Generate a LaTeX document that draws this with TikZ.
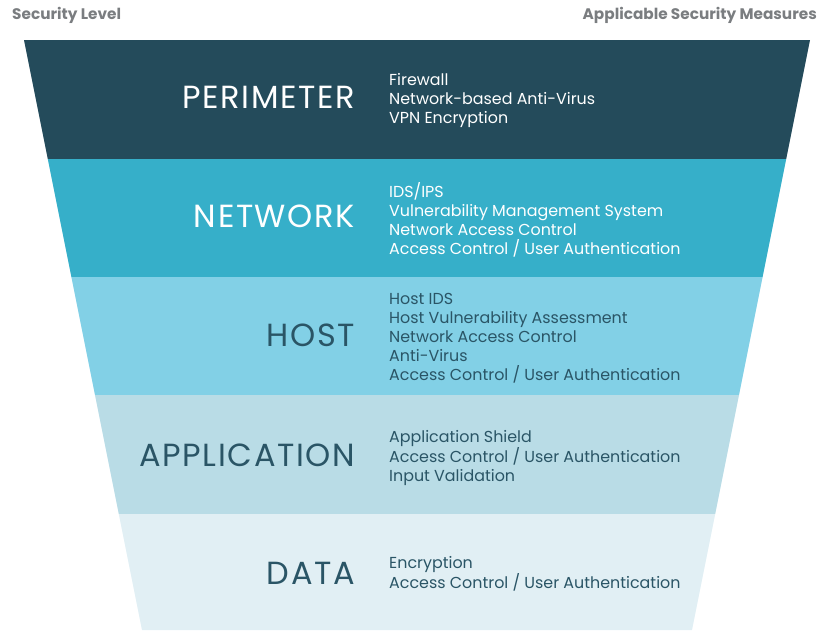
\documentclass[tikz,border=0pt]{standalone}
\usepackage{fontspec}
\setmainfont{Poppins}
\newfontfamily\levelfont[LetterSpace=5]{Poppins}
\definecolor{cPer}{HTML}{244B5B}
\definecolor{cNet}{HTML}{36AFC9}
\definecolor{cHost}{HTML}{82D0E6}
\definecolor{cApp}{HTML}{B9DCE6}
\definecolor{cData}{HTML}{E1EFF4}
\definecolor{cDark}{HTML}{2A5566}
\definecolor{cHead}{HTML}{7A7D80}
\begin{document}
\begin{tikzpicture}[x=1pt,y=-1pt,
  level/.style={anchor=east,inner sep=0pt,font=\levelfont\fontsize{32}{32}\selectfont},
  measures/.style={anchor=west,inner sep=0pt,align=left,font=\fontsize{15.9}{19}\selectfont},
  head/.style={inner sep=0pt,text=cHead,font=\fontsize{15.3}{15}\selectfont\bfseries}]
\useasboundingbox (0,0) rectangle (820,630);
\fill[cPer]  (24,40) -- (810,40) -- (786.2,159) -- (47.8,159) -- cycle;
\fill[cNet]  (47.8,159) -- (786.2,159) -- (762.6,277) -- (71.4,277) -- cycle;
\fill[cHost] (71.4,277) -- (762.6,277) -- (739,395) -- (95,395) -- cycle;
\fill[cApp]  (95,395) -- (739,395) -- (715.2,514) -- (118.8,514) -- cycle;
\fill[cData] (118.8,514) -- (715.2,514) -- (692,630) -- (142,630) -- cycle;

\node[head,anchor=west] (hl) at (12,15) {Security Level};
\node[head,anchor=east] (hr) at (817,15) {Applicable Security Measures};

\node[level,text=white] (per) at (355,97.5) {PERIMETER};
\node[level,text=white] (net) at (355,216.5) {NETWORK};
\node[level,text=cDark] (host) at (355,335.5) {HOST};
\node[level,text=cDark] (app) at (355,455) {APPLICATION};
\node[level,text=cDark] (data) at (355,573) {DATA};

\node[measures,text=white] (mper) at (389,101) {Firewall\\Network-based Anti-Virus\\VPN Encryption};
\node[measures,text=white] (mnet) at (389,219.5) {IDS/IPS\\Vulnerability Management System\\Network Access Control\\Access Control / User Authentication};
\node[measures,text=cDark] (mhost) at (389,338) {Host IDS\\Host Vulnerability Assessment\\Network Access Control\\Anti-Virus\\Access Control / User Authentication};
\node[measures,text=cDark] (mapp) at (389,458) {Application Shield\\Access Control / User Authentication\\Input Validation};
\node[measures,text=cDark] (mdata) at (389,574) {Encryption\\Access Control / User Authentication};
\end{tikzpicture}
\end{document}
